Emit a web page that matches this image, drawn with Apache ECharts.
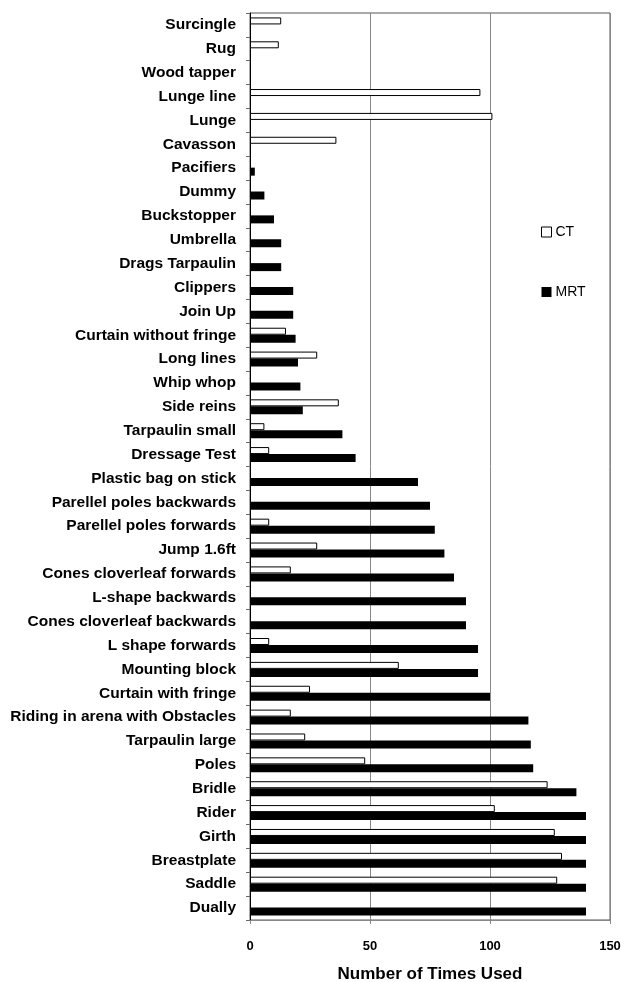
<!DOCTYPE html>
<html>
<head>
<meta charset="utf-8">
<script src="https://cdn.jsdelivr.net/npm/echarts@6/dist/echarts.min.js"></script>
<style>
html,body{margin:0;padding:0;background:#fff;}
#chart{width:622px;height:982px;}
</style>
</head>
<body>
<div id="chart"></div>
<script>
// Categories listed bottom to top
var categories = ["Dually","Saddle","Breastplate","Girth","Rider","Bridle","Poles","Tarpaulin large",
  "Riding in arena with Obstacles","Curtain with fringe","Mounting block","L shape forwards",
  "Cones cloverleaf backwards","L-shape backwards","Cones cloverleaf forwards","Jump 1.6ft",
  "Parellel poles forwards","Parellel poles backwards","Plastic bag on stick","Dressage Test",
  "Tarpaulin small","Side reins","Whip whop","Long lines","Curtain without fringe","Join Up",
  "Clippers","Drags Tarpaulin","Umbrella","Buckstopper","Dummy","Pacifiers","Cavasson","Lunge",
  "Lunge line","Wood tapper","Rug","Surcingle"];
var ctValues = [null,128,130,127,102,124,48,23,
  17,25,62,8,
  null,null,17,28,
  8,null,null,8,
  6,37,null,28,15,null,
  null,null,null,null,null,null,36,101,
  96,null,12,13];
var mrtValues = [140,140,140,140,140,136,118,117,
  116,100,95,95,
  90,90,85,81,
  77,75,70,44,
  38.5,22,21,20,19,18,
  18,13,13,10,6,2,null,null,
  null,null,null,null];
var xTicks = [0,50,100,150];

var chart = echarts.init(document.getElementById('chart'), null, {renderer:'canvas'});
var font = '"Liberation Sans", Arial, sans-serif';
chart.setOption({
  animation:false,
  backgroundColor:'#fff',
  grid:{left:250,right:12,top:13,bottom:62,outerBoundsMode:'none',containLabel:false,
        show:true,borderColor:'#555',borderWidth:1,backgroundColor:'transparent'},
  legend:{
    orient:'vertical', left:541, top:225, padding:0, itemGap:46, itemWidth:10, itemHeight:10,
    icon:'rect',
    textStyle:{fontFamily:font,fontSize:14,color:'#000',padding:[0,0,0,-1]},
    data:[{name:'CT',itemStyle:{borderWidth:1}},{name:'MRT'}]
  },
  xAxis:{
    type:'value', min:xTicks[0], max:xTicks[xTicks.length-1], interval:50,
    axisLine:{show:true,lineStyle:{color:'#888'}},
    axisTick:{show:true,length:4,lineStyle:{color:'#888'}},
    splitLine:{show:true,lineStyle:{color:'#888',width:1}},
    axisLabel:{fontFamily:font,fontSize:13,fontWeight:'bold',color:'#000',margin:20},
    name:'Number of Times Used', nameLocation:'middle', nameGap:46,
    nameTextStyle:{fontFamily:font,fontSize:17,fontWeight:'bold',color:'#000'}
  },
  yAxis:{
    type:'category', data:categories,
    axisLine:{show:true,lineStyle:{color:'#000',width:1}},
    axisTick:{show:true,length:4,lineStyle:{color:'#666'}},
    axisLabel:{fontFamily:font,fontSize:15.5,fontWeight:'bold',color:'#000',margin:14,interval:0}
  },
  series:[
    {name:'CT',type:'bar',data:ctValues,barWidth:7,barGap:'0%',
     itemStyle:{color:'#fff',borderColor:'#000',borderWidth:1}},
    {name:'MRT',type:'bar',data:mrtValues,barWidth:8,barGap:'0%',
     itemStyle:{color:'#000',borderColor:'#000',borderWidth:0}}
  ]
});
</script>
</body>
</html>
